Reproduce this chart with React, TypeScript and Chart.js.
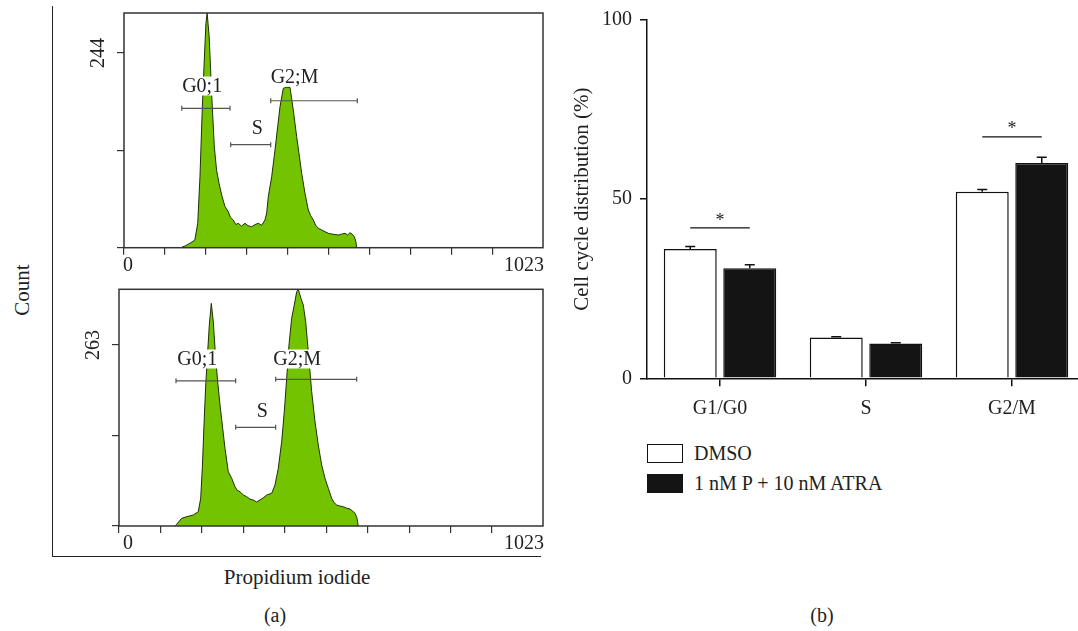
import React, { useEffect, useRef } from 'react';
import { Chart, registerables } from 'chart.js';

Chart.register(...registerables);

const FONT = '"Liberation Serif", "Times New Roman", Times, serif';
const TEXT = '#222222';
const GREEN = '#74c300';

// ---------- Panel (a): top histogram (DMSO) ----------
const topChannels = [138, 141, 150, 161, 173, 180, 185.5, 191, 196, 200, 203, 208, 214, 220.5, 226, 232, 238.5, 246.6, 254.6, 260, 266.8, 273, 279, 287, 295.4, 303, 311.8, 320, 327.9, 336, 344.2, 348.4, 352.3, 360.6, 368.7, 375.2, 380.9, 389, 397, 405.3, 413.3, 421.6, 427.2, 433.8, 441.9, 450, 456, 462.2, 468, 474.4, 482, 490.7, 499, 507, 515, 523.2, 531, 539.6, 546, 551.8, 557, 562.3, 566, 568.1];
const topCounts = [0, 0.5, 2.5, 5.5, 9.6, 30.6, 88.9, 172.5, 235, 281, 294, 264, 193, 126.5, 97, 80.7, 66, 51.4, 45.1, 38, 34.7, 29, 30.6, 27, 30.6, 27.5, 26.3, 29, 30.6, 28, 34.7, 43.5, 63.9, 88.9, 122.4, 151.6, 176.6, 199.7, 201, 200.9, 172.5, 139, 118.2, 93.2, 68.1, 47.2, 40, 34.7, 28, 24.3, 22.5, 20, 18, 17.2, 16.5, 15.9, 17, 18, 16, 18.8, 17, 13.8, 8, 0];
const topYMax = 294;
const topYTicks = [0, 122, 244];
const topYLabel = '244';
const topGateNames = ['G0;1', 'S', 'G2;M'];
const topGateStart = [141, 260.5, 358.2];
const topGateEnd = [258.8, 358.2, 569.6];
const topGateLevel = [174.6, 129, 184.1];
const topLabelChannel = [142, 312, 358];
const topLabelLevel = [202.5, 150, 214];

// ---------- Panel (a): bottom histogram (treated) ----------
const botChannels = [135, 139.2, 151.3, 163.3, 179.3, 191.3, 197.1, 201, 205.1, 209.2, 214, 217.9, 222.7, 227.5, 233.3, 238.1, 243.7, 250.2, 255.7, 263.7, 271.9, 279.9, 285, 291.9, 300, 308.1, 316, 324, 332, 340.2, 348, 356.3, 368.4, 376.4, 384.3, 392.5, 398.8, 404.6, 410.1, 416.6, 422.9, 428.7, 432.6, 439.1, 444.6, 450.4, 456.7, 464.9, 472.9, 480.8, 489, 497, 505, 513.1, 519, 525.2, 533, 541.1, 549, 557.3, 563, 569.4, 574, 577.3];
const botCounts = [0, 2.5, 11.2, 13.5, 16, 20.8, 40.2, 83.8, 146.8, 204.9, 253.3, 292, 323.6, 296.8, 243.7, 209.7, 175.8, 142, 112.9, 78.9, 69.3, 57.1, 52, 49.8, 45, 42.6, 39, 37.8, 35, 37.8, 41, 45, 47.5, 59.6, 83.8, 122.5, 166.1, 214.6, 263, 301.8, 321.1, 340.4, 344, 330.8, 321.1, 296.8, 253.3, 195.1, 151.5, 117.7, 88.6, 69.3, 54.8, 40.2, 34, 30.5, 29, 28, 26, 24.7, 22, 18.5, 12, 0];
const botYMax = 344;
const botYTicks = [0, 131.5, 263];
const botYLabel = '263';
const botGateNames = ['G0;1', 'S', 'G2;M'];
const botGateStart = [137.5, 281.5, 378];
const botGateEnd = [281.5, 378, 573.5];
const botGateLevel = [211, 143.4, 213.2];
const botLabelChannel = [140.6, 332.2, 372.3];
const botLabelLevel = [242.7, 167.5, 242.7];

const histXTicks = [0, 100, 200, 300, 400, 500, 600, 700, 800, 900];
const histXMin = 0;
const histXMax = 1023;

// ---------- Panel (b): bar chart ----------
const categories = ['G1/G0', 'S', 'G2/M'];
const seriesNames = ['DMSO', '1 nM P + 10 nM ATRA'];
const dmsoValues = [36.1, 11.4, 52.1];
const treatValues = [30.7, 9.7, 60.1];
const dmsoErr = [0.7, 0.2, 0.6];
const treatErr = [1.0, 0.2, 1.6];
const sigIndex = [0, 2];
const sigLineLevel = [42.0, 67.4];
const sigStarLevel = [44.9, 70.6];
const barYTicks = [0, 50, 100];

const histPlugin = {
  id: 'histDecor',
  afterDraw(chart: any) {
    const o = chart.options.plugins.histDecor;
    const { ctx, chartArea } = chart;
    const xs = chart.scales.x;
    const ys = chart.scales.y;
    ctx.save();
    // frame
    ctx.strokeStyle = '#333';
    ctx.lineWidth = 1.5;
    ctx.strokeRect(chartArea.left, chartArea.top, chartArea.right - chartArea.left, chartArea.bottom - chartArea.top);
    // gates
    ctx.strokeStyle = '#555';
    ctx.lineWidth = 1.2;
    for (let i = 0; i < o.names.length; i++) {
      const x1 = xs.getPixelForValue(o.start[i]);
      const x2 = xs.getPixelForValue(o.end[i]);
      const y = ys.getPixelForValue(o.level[i]);
      ctx.beginPath();
      ctx.moveTo(x1, y); ctx.lineTo(x2, y);
      ctx.moveTo(x1, y - 2.5); ctx.lineTo(x1, y + 2.5);
      ctx.moveTo(x2, y - 2.5); ctx.lineTo(x2, y + 2.5);
      ctx.stroke();
    }
    ctx.font = `20px ${FONT}`;
    ctx.textBaseline = 'middle';
    ctx.textAlign = 'left';
    for (let i = 0; i < o.names.length; i++) {
      const x = xs.getPixelForValue(o.labelX[i]);
      const y = ys.getPixelForValue(o.labelY[i]);
      const w = ctx.measureText(o.names[i]).width;
      ctx.fillStyle = '#fff';
      ctx.fillRect(x - 1, y - 9.5, w + 2, 19);
      ctx.fillStyle = TEXT;
      ctx.fillText(o.names[i], x, y + 1);
    }
    // axis labels
    ctx.fillStyle = TEXT;
    ctx.textAlign = 'center';
    ctx.fillText('0', chartArea.left + o.zeroDx, chartArea.bottom + 18);
    ctx.textAlign = 'right';
    ctx.fillText('1023', chartArea.right + 1, chartArea.bottom + 18);
    ctx.save();
    ctx.translate(chartArea.left - 26, ys.getPixelForValue(o.yLabelValue));
    ctx.rotate(-Math.PI / 2);
    ctx.textAlign = 'center';
    ctx.fillText(o.yLabel, 0, 1);
    ctx.restore();
    ctx.restore();
  },
};

const barPlugin = {
  id: 'barDecor',
  afterDatasetsDraw(chart: any) {
    const { ctx } = chart;
    const ys = chart.scales.y;
    const values = [dmsoValues, treatValues];
    const errs = [dmsoErr, treatErr];
    ctx.save();
    ctx.strokeStyle = '#111';
    ctx.lineWidth = 1.5;
    for (let d = 0; d < 2; d++) {
      const meta = chart.getDatasetMeta(d);
      meta.data.forEach((bar: any, j: number) => {
        const yTop = ys.getPixelForValue(values[d][j]);
        const yE = ys.getPixelForValue(values[d][j] + errs[d][j]);
        ctx.beginPath();
        ctx.moveTo(bar.x, yTop);
        ctx.lineTo(bar.x, yE);
        ctx.moveTo(bar.x - 5, yE);
        ctx.lineTo(bar.x + 5, yE);
        ctx.stroke();
      });
    }
    const mA = chart.getDatasetMeta(0);
    const mB = chart.getDatasetMeta(1);
    ctx.lineWidth = 1.3;
    ctx.font = `18px ${FONT}`;
    ctx.fillStyle = TEXT;
    ctx.textAlign = 'center';
    ctx.textBaseline = 'alphabetic';
    sigIndex.forEach((idx, k) => {
      const x1 = mA.data[idx].x;
      const x2 = mB.data[idx].x;
      const y = ys.getPixelForValue(sigLineLevel[k]);
      ctx.beginPath();
      ctx.moveTo(x1, y);
      ctx.lineTo(x2, y);
      ctx.stroke();
      const yc = ys.getPixelForValue(sigStarLevel[k]);
      ctx.fillText('*', (x1 + x2) / 2, yc + 0.466 * 18);
    });
    ctx.restore();
  },
};

function histConfig(channels: number[], counts: number[], yMax: number, yTicks: number[], yLabel: string,
  names: string[], start: number[], end: number[], level: number[], labelX: number[], labelY: number[],
  yWidth: number, pad: any, zeroDx: number): any {
  const tickGrid = { drawOnChartArea: false, drawTicks: true, tickLength: 7, color: '#333', lineWidth: 1.2 };
  return {
    type: 'line',
    data: {
      datasets: [{
        data: channels.map((x, i) => ({ x, y: counts[i] })),
        fill: 'origin',
        backgroundColor: GREEN,
        borderColor: '#1f3000',
        borderWidth: 1,
        pointRadius: 0,
        tension: 0,
      }],
    },
    options: {
      responsive: false,
      animation: false,
      devicePixelRatio: 1,
      layout: { padding: pad },
      plugins: {
        legend: { display: false },
        tooltip: { enabled: false },
        histDecor: { names, start, end, level, labelX, labelY, yLabel, yLabelValue: yTicks[yTicks.length - 1], zeroDx },
      },
      scales: {
        x: {
          type: 'linear', min: histXMin, max: histXMax,
          afterBuildTicks: (s: any) => { s.ticks = histXTicks.map((v) => ({ value: v })); },
          afterFit: (s: any) => { s.height = 20; },
          ticks: { display: false },
          grid: tickGrid,
          border: { display: false },
        },
        y: {
          type: 'linear', min: 0, max: yMax,
          afterBuildTicks: (s: any) => { s.ticks = yTicks.map((v) => ({ value: v })); },
          afterFit: (s: any) => { s.width = yWidth; },
          ticks: { display: false },
          grid: tickGrid,
          border: { display: false },
        },
      },
    },
    plugins: [histPlugin],
  };
}

function barConfig(): any {
  return {
    type: 'bar',
    data: {
      labels: categories,
      datasets: [
        { label: seriesNames[0], data: dmsoValues, backgroundColor: '#ffffff', borderColor: '#111', borderWidth: 1.5, categoryPercentage: 0.815, barPercentage: 0.89 },
        { label: seriesNames[1], data: treatValues, backgroundColor: '#141414', borderColor: '#111', borderWidth: 1.5, categoryPercentage: 0.815, barPercentage: 0.89 },
      ],
    },
    options: {
      responsive: false,
      animation: false,
      devicePixelRatio: 1,
      layout: { padding: { left: 0, right: 15, top: 18.3, bottom: 1.7 } },
      plugins: { legend: { display: false }, tooltip: { enabled: false } },
      scales: {
        x: {
          afterFit: (s: any) => { s.height = 40; },
          grid: { offset: false, drawOnChartArea: false, drawTicks: true, tickLength: 8, color: '#111', lineWidth: 1.5 },
          border: { display: true, color: '#111', width: 1.5 },
          ticks: { font: { family: FONT, size: 20 }, color: TEXT, padding: 10, maxRotation: 0 },
        },
        y: {
          min: 0, max: 100,
          afterBuildTicks: (s: any) => { s.ticks = barYTicks.map((v) => ({ value: v })); },
          afterFit: (s: any) => { s.width = 87; },
          grid: { drawOnChartArea: false, drawTicks: true, tickLength: 7, color: '#111', lineWidth: 1.5 },
          border: { display: true, color: '#111', width: 1.5 },
          ticks: { font: { family: FONT, size: 20 }, color: TEXT, padding: 8 },
          title: { display: true, text: 'Cell cycle distribution (%)', font: { family: FONT, size: 21 }, color: TEXT, padding: { top: 9.4, bottom: 0 } },
        },
      },
    },
    plugins: [barPlugin],
  };
}

export default function App() {
  const topRef = useRef<HTMLCanvasElement>(null);
  const botRef = useRef<HTMLCanvasElement>(null);
  const barRef = useRef<HTMLCanvasElement>(null);

  useEffect(() => {
    const charts: Chart[] = [];
    if (topRef.current) {
      charts.push(new Chart(topRef.current, histConfig(topChannels, topCounts, topYMax, topYTicks, topYLabel,
        topGateNames, topGateStart, topGateEnd, topGateLevel, topLabelChannel, topLabelLevel,
        64, { left: 0, right: 17, top: 13, bottom: 12.3 }, 4)));
    }
    if (botRef.current) {
      charts.push(new Chart(botRef.current, histConfig(botChannels, botCounts, botYMax, botYTicks, botYLabel,
        botGateNames, botGateStart, botGateEnd, botGateLevel, botLabelChannel, botLabelLevel,
        59, { left: 0, right: 17, top: 9.3, bottom: 14 }, 9)));
    }
    if (barRef.current) {
      charts.push(new Chart(barRef.current, barConfig()));
    }
    return () => charts.forEach((c) => c.destroy());
  }, []);

  const abs = (extra: any) => ({ position: 'absolute' as const, ...extra });
  const label = (text: string, cx: number, cy: number, size: number, rotate = false) => (
    <div style={abs({ left: cx, top: cy, transform: `translate(-50%, -50%)${rotate ? ' rotate(-90deg)' : ''}`, fontSize: size, lineHeight: `${size}px`, whiteSpace: 'nowrap' })}>{text}</div>
  );

  return (
    <div style={{ position: 'absolute', left: 0, top: 0, width: 1078, height: 631, overflow: 'hidden', background: '#fff', fontFamily: FONT, color: TEXT }}>
      <div style={abs({ left: 52, top: 6, width: 489, height: 551, borderLeft: '1.5px solid #222', borderBottom: '1.5px solid #222', boxSizing: 'border-box' })} />
      <canvas ref={topRef} width={500} height={280} style={abs({ left: 60, top: 0, width: 500, height: 280 })} />
      <canvas ref={botRef} width={500} height={280} style={abs({ left: 60, top: 280, width: 500, height: 280 })} />
      <canvas ref={barRef} width={540} height={420} style={abs({ left: 560, top: 0, width: 540, height: 420 })} />
      {label('Count', 22, 290, 21, true)}
      {label('Propidium iodide', 297, 577, 21)}
      {label('(a)', 275, 615, 20)}
      {label('(b)', 822, 615, 20)}
      <div style={abs({ left: 647, top: 444, width: 36, height: 19, border: '1.5px solid #111', background: '#fff', boxSizing: 'border-box' })} />
      <div style={abs({ left: 647, top: 474, width: 36, height: 19, background: '#141414' })} />
      <div style={abs({ left: 694, top: 443, fontSize: 20, lineHeight: '20px', whiteSpace: 'nowrap' })}>{seriesNames[0]}</div>
      <div style={abs({ left: 694, top: 473, fontSize: 20, lineHeight: '20px', whiteSpace: 'nowrap' })}>{seriesNames[1]}</div>
    </div>
  );
}
